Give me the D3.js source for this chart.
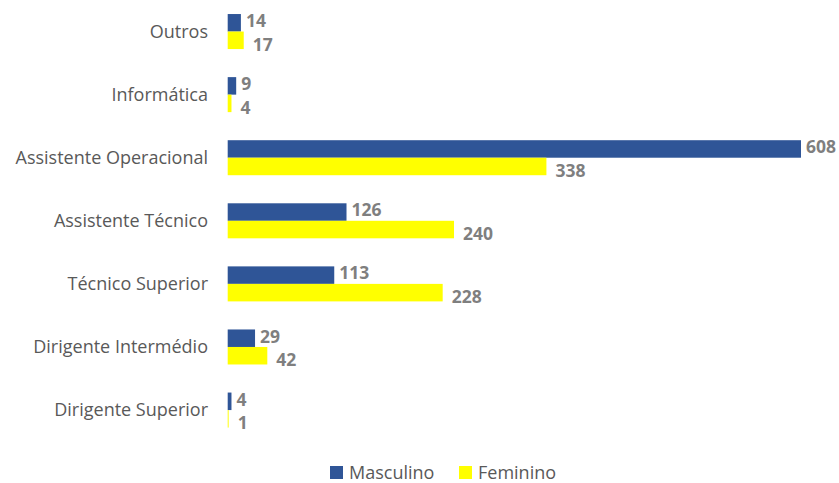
<!DOCTYPE html>
<html><head><meta charset="utf-8">
<script src="https://cdn.jsdelivr.net/npm/d3@7"></script>
<style>body{margin:0;background:#fff}svg{display:block}</style>
</head><body>
<script>
const categories = ["Outros","Informática","Assistente Operacional","Assistente Técnico","Técnico Superior","Dirigente Intermédio","Dirigente Superior"];
const masculino = [14, 9, 608, 126, 113, 29, 4];
const feminino = [17, 4, 338, 240, 228, 42, 1];
const seriesNames = ["Masculino","Feminino"];
const colors = ["#2F5597","#FFFF00"];

const W = 839, H = 483;
const svg = d3.select("body").append("svg").attr("width", W).attr("height", H);
const x = d3.scaleLinear().domain([0, 608]).range([227.7, 801]);
const y = d3.scaleBand().domain(categories).range([0, 441.6]).paddingInner(0.445).paddingOuter(0.2225);
const sub = d3.scaleBand().domain(seriesNames).range([0, y.bandwidth()]);

const data = [masculino, feminino];
const labelGap = [5, 9];
const labelShift = [-2, 4];
const g = svg.append("g");
categories.forEach((c, i) => {
  seriesNames.forEach((s, j) => {
    const v = data[j][i];
    const yy = y(c) + sub(s);
    g.append("rect").attr("x", x(0)).attr("y", yy).attr("width", x(v) - x(0)).attr("height", sub.bandwidth())
      .attr("fill", colors[j]);
    g.append("text").attr("x", x(v) + labelGap[j]).attr("y", yy + sub.bandwidth()/2 + labelShift[j]).attr("dy", "0.36em")
      .attr("fill", "#7F7F7F").attr("font-family", "Open Sans, sans-serif").attr("font-weight", "bold")
      .attr("font-size", "17.5px").text(v);
  });
});

const axis = d3.axisLeft(y).tickSize(0).tickPadding(0);
const ax = svg.append("g").attr("transform", `translate(208,0)`).call(axis);
ax.select(".domain").remove();
ax.selectAll("text").attr("fill", "#595959").attr("font-family", "Open Sans, sans-serif").attr("font-size", "18px").attr("dy","0.34em");

const leg = svg.append("g");
const legX = [330, 459];
seriesNames.forEach((s, j) => {
  leg.append("rect").attr("x", legX[j]).attr("y", 466).attr("width", 13).attr("height", 13).attr("fill", colors[j]);
  leg.append("text").attr("x", legX[j] + 19).attr("y", 472.5).attr("dy","0.36em").attr("fill","#595959")
    .attr("font-family","Open Sans, sans-serif").attr("font-size","18px").text(s);
});
</script>
</body></html>
